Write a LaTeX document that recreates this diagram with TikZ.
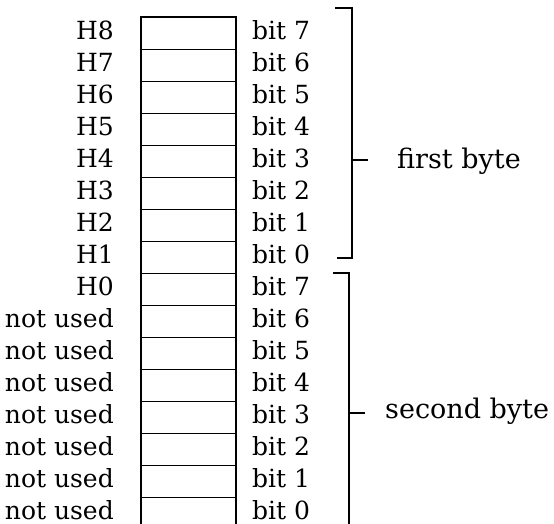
\documentclass[tikz,border=0pt]{standalone}
\usepackage{fontspec}
\setmainfont{DejaVu Serif}
\begin{document}
\begin{tikzpicture}[x=1pt,y=-1pt,
  cell/.style={draw,line width=1pt,minimum width=95pt,minimum height=32pt,inner sep=0pt,outer sep=0pt},
  lab/.style={inner sep=0pt,font=\fontsize{25}{29}\selectfont},
  blab/.style={inner sep=0pt,font=\fontsize{27}{31}\selectfont},
  brk/.style={line width=1.5pt}]
\clip (0,0) rectangle (554,523);
\fill[white] (0,0) rectangle (554,523);
\foreach \i/\l/\r in {0/H8/bit 7,1/H7/bit 6,2/H6/bit 5,3/H5/bit 4,4/H4/bit 3,5/H3/bit 2,6/H2/bit 1,7/H1/bit 0,
  8/H0/bit 7,9/not used/bit 6,10/not used/bit 5,11/not used/bit 4,12/not used/bit 3,13/not used/bit 2,14/not used/bit 1,15/not used/bit 0}{
  \pgfmathsetmacro{\t}{17+32*\i}
  \node[cell] (c\i) at (188.5,\t+16) {};
  \node[lab,anchor=base east] (l\i) at (114,\t+22.5) {\l};
  \node[lab,anchor=base west] (r\i) at (252,\t+22.5) {\r};
}
\draw[line width=1.8pt] (c15.south west) -- (c0.north west) -- (c0.north east) -- (c15.south east);
% first byte bracket
\coordinate (a1) at (335,8);
\coordinate (a2) at (352,8);
\coordinate (a3) at (352,258);
\coordinate (a4) at (337,258);
\coordinate (am) at (352,160);
\coordinate (at) at (368,160);
\draw[brk] (a1) -- (a2) -- (a3) -- (a4);
\draw[brk] (am) -- (at);
\node[blab,anchor=base west] (fb) at (397,168) {first byte};
% second byte bracket
\coordinate (b1) at (333,273);
\coordinate (b2) at (349,273);
\coordinate (b3) at (349,540);
\coordinate (bm) at (349,413);
\coordinate (bt) at (365,413);
\draw[brk] (b1) -- (b2) -- (b3);
\draw[brk] (bm) -- (bt);
\node[blab,anchor=base west] (sb) at (385,418) {second byte};
\end{tikzpicture}
\end{document}
